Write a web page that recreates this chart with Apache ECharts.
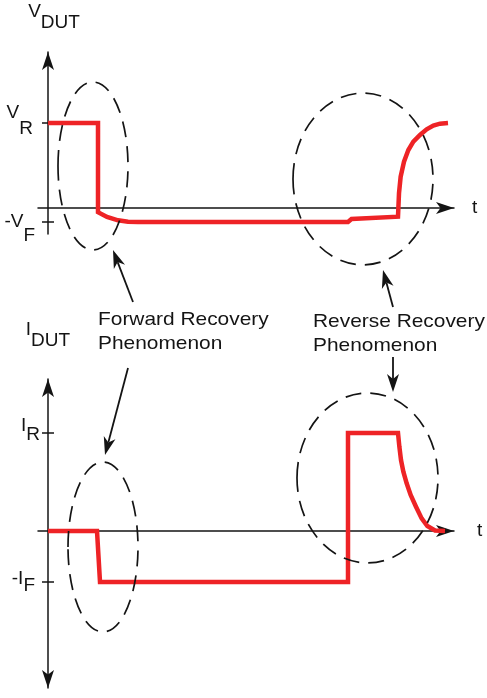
<!DOCTYPE html>
<html>
<head>
<meta charset="utf-8">
<script src="https://cdn.jsdelivr.net/npm/echarts@6/dist/echarts.min.js"></script>
<style>
  html, body { margin: 0; padding: 0; background: #ffffff; }
  #chart { width: 487px; height: 698px; }
</style>
</head>
<body>
<div id="chart"></div>
<script>
// Diode switching waveforms: voltage across and current through the device under test.
const vTime   = [0, 1.0, 1.0, 1.18, 1.4, 1.6, 1.8, 6.0, 6.07, 7.0, 7.02, 7.053, 7.12, 7.207, 7.307, 7.44, 7.573, 7.707, 7.84, 8.0];
const vValues = [1, 1, -0.05, -0.105, -0.145, -0.163, -0.165, -0.165, -0.13, -0.102, 0.173, 0.368, 0.545, 0.682, 0.78, 0.859, 0.925, 0.969, 0.992, 1.0];

const iTime   = [0, 0.98, 1.04, 6.0, 6.0, 7.0, 7.027, 7.06, 7.107, 7.173, 7.253, 7.36, 7.473, 7.587, 7.74, 7.94];
const iValues = [0, 0, -0.52, -0.52, 1.0, 1.0, 0.861, 0.724, 0.605, 0.487, 0.367, 0.248, 0.129, 0.051, 0.005, 0];

// Level markers on the vertical axes: [main text, subscript]
const vTickValues = [1, -0.165];
const vTickLabels = [['V', 'R'], ['-V', 'F']];
const iTickValues = [1, -0.52];
const iTickLabels = [['I', 'R'], ['-I', 'F']];

const axisNames = [['V', 'DUT'], ['I', 'DUT']];
const timeName = 't';
const calloutTexts = [['Forward Recovery', 'Phenomenon'], ['Reverse Recovery', 'Phenomenon']];

const FONT = '"Liberation Sans", Arial, Helvetica, sans-serif';
const RED = '#ee2326';
const INK = '#141414';
const AXIS_W = 1.5;

// Rich-text pair (main + lowered subscript)
function subRich(key, lift, drop, below, padRight) {
  const r = {};
  r['m' + key] = { fontFamily: FONT, fontSize: 19, color: INK, verticalAlign: 'top', padding: [lift, 0, 0, 0] };
  r['s' + key] = { fontFamily: FONT, fontSize: 19, color: INK, verticalAlign: 'top', padding: [lift + drop, padRight, below, 0] };
  return r;
}

const vRich = Object.assign({}, subRich(0, 0, 16, 5, 7), subRich(1, 14, 14, 0, 5));
const iRich = Object.assign({}, subRich(0, 0, 9.5, 5.5, 0), subRich(1, 6, 6.5, 5.5, 5));

function tickFormatter(values, labels) {
  return function (value) {
    let k = values.indexOf(value);
    if (k < 0) {
      let best = 0;
      values.forEach((v, j) => { if (Math.abs(v - value) < Math.abs(values[best] - value)) best = j; });
      k = best;
    }
    return '{m' + k + '|' + labels[k][0] + '}{s' + k + '|' + labels[k][1] + '}';
  };
}

const axisLineStyle = { color: INK, width: AXIS_W };

function timeAxis(gridIndex, yIndex, gap) {
  return {
    gridIndex: gridIndex, type: 'value', min: -0.2, max: 8.12,
    axisLine: { show: true, onZero: true, onZeroAxisIndex: yIndex, symbol: ['none', 'arrow'], symbolSize: [9, 18], lineStyle: axisLineStyle },
    axisTick: { show: false }, axisLabel: { show: false }, splitLine: { show: false },
    name: timeName, nameLocation: 'end', nameGap: gap,
    nameTextStyle: { fontFamily: FONT, fontSize: 19, color: INK }
  };
}

function levelAxis(gridIndex, xIndex, min, max, tickValues, tickLabels, rich, arrows, nameParts, nameGap, namePad, nameRich) {
  return {
    gridIndex: gridIndex, type: 'value', min: min, max: max, position: 'left',
    axisLine: { show: true, onZero: true, onZeroAxisIndex: xIndex, symbol: arrows, symbolSize: [9, 18], lineStyle: axisLineStyle },
    axisTick: { show: true, customValues: tickValues, length: 6, lineStyle: axisLineStyle },
    axisLabel: { show: true, customValues: tickValues, margin: -2, formatter: tickFormatter(tickValues, tickLabels), rich: rich },
    splitLine: { show: false },
    name: '{m|' + nameParts[0] + '}{s|' + nameParts[1] + '}',
    nameLocation: 'end', nameGap: nameGap,
    nameTextStyle: { padding: [0, 0, 0, namePad], rich: nameRich }
  };
}

// Companion axis carrying the right-hand half of each level tick
function tickOnlyAxis(gridIndex, xIndex, min, max, tickValues) {
  return {
    gridIndex: gridIndex, type: 'value', min: min, max: max, position: 'right',
    axisLine: { show: true, onZero: true, onZeroAxisIndex: xIndex, symbol: 'none', lineStyle: { color: INK, width: AXIS_W, opacity: 0 } },
    axisTick: { show: true, customValues: tickValues, length: 6, lineStyle: axisLineStyle },
    axisLabel: { show: false }, splitLine: { show: false }
  };
}

const nameRich = {
  m: { fontFamily: FONT, fontSize: 19, color: INK, verticalAlign: 'top', padding: [0, 0, 0, 0] },
  s: { fontFamily: FONT, fontSize: 19, color: INK, verticalAlign: 'top', padding: [11, 0, 0, 0] }
};

const chart = echarts.init(document.getElementById('chart'), null, { renderer: 'canvas' });

const waveStyle = { color: RED, width: 4.5, cap: 'butt', join: 'miter' };

chart.setOption({
  animation: false,
  backgroundColor: '#ffffff',
  grid: [
    { left: 38, top: 52, width: 416, height: 182, containLabel: false, outerBoundsMode: 'none' },
    { left: 38, top: 379, width: 416, height: 309, containLabel: false, outerBoundsMode: 'none' }
  ],
  xAxis: [timeAxis(0, 0, 18), timeAxis(1, 2, 23)],
  yAxis: [
    levelAxis(0, 0, -0.306, 1.835, vTickValues, vTickLabels, vRich, ['none', 'arrow'], axisNames[0], 19.5, 12, nameRich),
    tickOnlyAxis(0, 0, -0.306, 1.835, vTickValues),
    levelAxis(1, 1, -1.602, 1.551, iTickValues, iTickLabels, iRich, ['arrow', 'arrow'], axisNames[1], 29, 0, nameRich),
    tickOnlyAxis(1, 1, -1.602, 1.551, iTickValues)
  ],
  series: [
    {
      type: 'line', xAxisIndex: 0, yAxisIndex: 0, z: 5, silent: true,
      symbol: 'none', showSymbol: false, lineStyle: waveStyle,
      data: vTime.map((t, k) => [t, vValues[k]])
    },
    {
      type: 'line', xAxisIndex: 1, yAxisIndex: 2, z: 5, silent: true,
      symbol: 'none', showSymbol: false, lineStyle: waveStyle,
      data: iTime.map((t, k) => [t, iValues[k]])
    }
  ]
});

// Dashed loops around the recovery events, placed in data coordinates
const loops = [
  { axes: [0, 0], c: [0.9, 0.494], r: [0.7, 0.988] },
  { axes: [0, 0], c: [6.3, 0.341], r: [1.4, 1.01] },
  { axes: [1, 2], c: [1.1, -0.163], r: [0.7, 0.867] },
  { axes: [1, 2], c: [6.39, 0.541], r: [1.41, 0.867] }
];

function arrow(tail, tip) {
  const dx = tip[0] - tail[0], dy = tip[1] - tail[1];
  const len = Math.hypot(dx, dy);
  const ux = dx / len, uy = dy / len, nx = -uy, ny = ux;
  const L = 18, W = 6;
  const base = [tip[0] - ux * L, tip[1] - uy * L];
  const notch = [tip[0] - ux * L * 0.72, tip[1] - uy * L * 0.72];
  return [
    { type: 'line', silent: true, shape: { x1: tail[0], y1: tail[1], x2: notch[0], y2: notch[1] }, style: { stroke: INK, lineWidth: 1.8 } },
    { type: 'polygon', silent: true, shape: { points: [tip, [base[0] + nx * W, base[1] + ny * W], notch, [base[0] - nx * W, base[1] - ny * W]] }, style: { fill: INK } }
  ];
}

const graphics = [];
loops.forEach(function (lp) {
  const finder = { xAxisIndex: lp.axes[0], yAxisIndex: lp.axes[1] };
  const c = chart.convertToPixel(finder, lp.c);
  const ex = chart.convertToPixel(finder, [lp.c[0] + lp.r[0], lp.c[1]]);
  const ey = chart.convertToPixel(finder, [lp.c[0], lp.c[1] + lp.r[1]]);
  graphics.push({
    type: 'ellipse', silent: true, z: 10,
    shape: { cx: c[0], cy: c[1], rx: Math.abs(ex[0] - c[0]), ry: Math.abs(c[1] - ey[1]) },
    style: { fill: null, stroke: INK, lineWidth: 1.7, lineDash: [16, 9] }
  });
});

[[[133, 302], [113, 250]], [[128, 368], [105, 455]], [[393, 307], [383, 270]], [[393, 357], [393, 392]]]
  .forEach(function (a) { arrow(a[0], a[1]).forEach(g => graphics.push(g)); });

[[98, 308], [313, 309.7]].forEach(function (pos, k) {
  graphics.push({
    type: 'text', silent: true, x: pos[0], y: pos[1], scaleX: 1.1,
    style: { text: calloutTexts[k].join('\n'), font: '19px ' + FONT, fill: INK, align: 'left', verticalAlign: 'top', lineHeight: 24 }
  });
});

chart.setOption({ graphic: graphics });
</script>
</body>
</html>
